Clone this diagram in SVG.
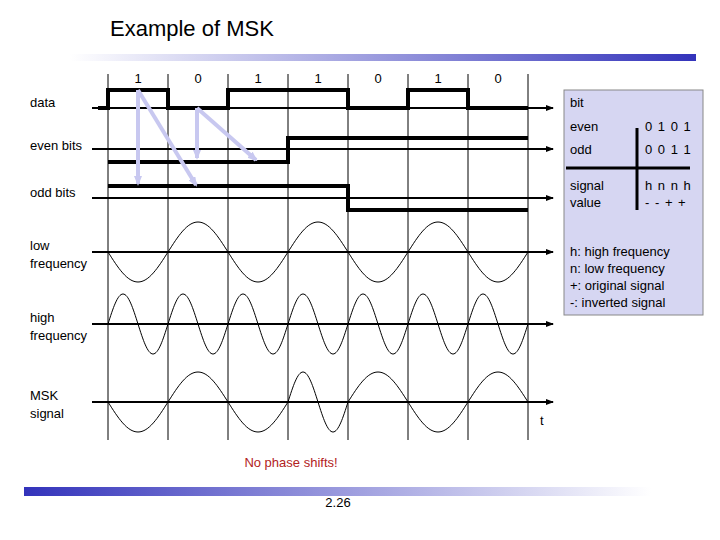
<svg xmlns="http://www.w3.org/2000/svg" width="720" height="540" viewBox="0 0 720 540">
<defs>
<linearGradient id="gTop" x1="0" x2="1" y1="0" y2="0"><stop offset="0" stop-color="#ffffff"/><stop offset="1" stop-color="#3333bb"/></linearGradient>
<linearGradient id="gBot" x1="0" x2="1" y1="0" y2="0"><stop offset="0" stop-color="#3333bb"/><stop offset="1" stop-color="#ffffff"/></linearGradient>
<marker id="ah" markerWidth="8" markerHeight="6" refX="7" refY="3" orient="auto" markerUnits="userSpaceOnUse"><path d="M0,0 L8,3 L0,6 Z" fill="#000"/></marker>
<marker id="bh" markerWidth="10" markerHeight="8" refX="8" refY="4" orient="auto" markerUnits="userSpaceOnUse"><path d="M0,0 L10,4 L0,8 Z" fill="#c8c8f0"/></marker>
<style>
text{font-family:"Liberation Sans",Arial,sans-serif;font-size:13px;fill:#000}
.grid{stroke:#000;stroke-width:1}
.axis{stroke:#000;stroke-width:2;marker-end:url(#ah)}
.sig{stroke:#000;stroke-width:4;fill:none}
.wave{stroke:#000;stroke-width:1;fill:none}
.ba{stroke:#c8c8f0;stroke-width:4;fill:none;marker-end:url(#bh)}
</style>
</defs>
<rect width="720" height="540" fill="#fff"/>
<text x="110" y="36" style="font-size:22px">Example of MSK</text>
<rect x="70" y="54" width="626" height="7" fill="url(#gTop)"/>
<g id="box">
<rect x="564" y="90" width="139" height="225" fill="#d6d6f2" stroke="#888" stroke-width="1"/>
<text x="570" y="107">bit</text>
<text x="570" y="131">even</text><text x="645" y="131" style="letter-spacing:1px">0 1 0 1</text>
<text x="570" y="154">odd</text><text x="645" y="154" style="letter-spacing:1px">0 0 1 1</text>
<line x1="566" y1="168" x2="690" y2="168" stroke="#000" stroke-width="3"/>
<line x1="637" y1="128" x2="637" y2="210" stroke="#000" stroke-width="3"/>
<text x="570" y="190">signal</text><text x="570" y="207">value</text>
<text x="645" y="190" style="letter-spacing:1px">h n n h</text><text x="645" y="207" style="letter-spacing:1px">- - + +</text>
<text x="570" y="256">h: high frequency</text>
<text x="570" y="273">n: low frequency</text>
<text x="570" y="290">+: original signal</text>
<text x="570" y="307">-: inverted signal</text>
</g>
<g id="grid">
<line class="grid" x1="108" y1="74" x2="108" y2="440"/><line class="grid" x1="168" y1="74" x2="168" y2="440"/>
<line class="grid" x1="228" y1="74" x2="228" y2="440"/><line class="grid" x1="288" y1="74" x2="288" y2="440"/>
<line class="grid" x1="348" y1="74" x2="348" y2="440"/><line class="grid" x1="408" y1="74" x2="408" y2="440"/>
<line class="grid" x1="468" y1="74" x2="468" y2="440"/><line class="grid" x1="528" y1="74" x2="528" y2="440"/>
</g>
<g id="bits">
<text x="138" y="83" text-anchor="middle">1</text><text x="198" y="83" text-anchor="middle">0</text>
<text x="258" y="83" text-anchor="middle">1</text><text x="318" y="83" text-anchor="middle">1</text>
<text x="378" y="83" text-anchor="middle">0</text><text x="438" y="83" text-anchor="middle">1</text>
<text x="498" y="83" text-anchor="middle">0</text>
</g>
<g id="labels">
<text x="30" y="107">data</text>
<text x="30" y="150">even bits</text>
<text x="30" y="197">odd bits</text>
<text x="30" y="250">low</text><text x="30" y="268">frequency</text>
<text x="30" y="322">high</text><text x="30" y="340">frequency</text>
<text x="30" y="400">MSK</text><text x="30" y="418">signal</text>
<text x="540" y="425">t</text>
</g>
<g id="connectors">
<line class="axis" x1="92" y1="108" x2="553" y2="108"/>
<line class="axis" x1="92" y1="149" x2="553" y2="149"/>
<line class="axis" x1="92" y1="198" x2="553" y2="198"/>
<line class="axis" x1="92" y1="252" x2="553" y2="252"/>
<line class="axis" x1="92" y1="324" x2="553" y2="324"/>
<line class="axis" x1="92" y1="402" x2="553" y2="402"/>
</g>
<g id="signals">
<path class="sig" d="M98,108 H108 V90 H168 V108 H228 V90 H348 V108 H408 V90 H468 V108 H528"/>
<path class="sig" d="M108,162 H288 V138 H528"/>
<path class="sig" d="M108,186 H348 V210 H528"/>
</g>
<g id="mapping">
<path class="ba" d="M138,90 V184"/>
<path class="ba" d="M138,90 L196,185"/>
<path class="ba" d="M197,108 V158"/>
<path class="ba" d="M197,108 L256,160"/>
</g>
<g id="waves">
<path class="wave" d="M108,252 c10,15.75 19.1,30 30,30 c10.9,0 20,-14.25 30,-30 c10,-15.75 19.1,-30 30,-30 c10.9,0 20,14.25 30,30 c10,15.75 19.1,30 30,30 c10.9,0 20,-14.25 30,-30 c10,-15.75 19.1,-30 30,-30 c10.9,0 20,14.25 30,30 c10,15.75 19.1,30 30,30 c10.9,0 20,-14.25 30,-30 c10,-15.75 19.1,-30 30,-30 c10.9,0 20,14.25 30,30 c10,15.75 19.1,30 30,30 c10.9,0 20,-14.25 30,-30"/>
<path class="wave" d="M108,324 c5,-15.75 9.55,-30 15,-30 c5.45,0 10,14.25 15,30 c5,15.75 9.55,30 15,30 c5.45,0 10,-14.25 15,-30 c5,-15.75 9.55,-30 15,-30 c5.45,0 10,14.25 15,30 c5,15.75 9.55,30 15,30 c5.45,0 10,-14.25 15,-30 c5,-15.75 9.55,-30 15,-30 c5.45,0 10,14.25 15,30 c5,15.75 9.55,30 15,30 c5.45,0 10,-14.25 15,-30 c5,-15.75 9.55,-30 15,-30 c5.45,0 10,14.25 15,30 c5,15.75 9.55,30 15,30 c5.45,0 10,-14.25 15,-30 c5,-15.75 9.55,-30 15,-30 c5.45,0 10,14.25 15,30 c5,15.75 9.55,30 15,30 c5.45,0 10,-14.25 15,-30 c5,-15.75 9.55,-30 15,-30 c5.45,0 10,14.25 15,30 c5,15.75 9.55,30 15,30 c5.45,0 10,-14.25 15,-30 c5,-15.75 9.55,-30 15,-30 c5.45,0 10,14.25 15,30 c5,15.75 9.55,30 15,30 c5.45,0 10,-14.25 15,-30"/>
<path class="wave" d="M108,402 c10,15.75 19.1,30 30,30 c10.9,0 20,-14.25 30,-30 c10,-15.75 19.1,-30 30,-30 c10.9,0 20,14.25 30,30 c10,15.75 19.1,30 30,30 c10.9,0 20,-14.25 30,-30 c5,-15.75 9.55,-30 15,-30 c5.45,0 10,14.25 15,30 c5,15.75 9.55,30 15,30 c5.45,0 10,-14.25 15,-30 c10,-15.75 19.1,-30 30,-30 c10.9,0 20,14.25 30,30 c10,15.75 19.1,30 30,30 c10.9,0 20,-14.25 30,-30 c10,-15.75 19.1,-30 30,-30 c10.9,0 20,14.25 30,30"/>
</g>
<text x="291" y="467" text-anchor="middle" style="fill:#b22222">No phase shifts!</text>
<rect x="24" y="487" width="627" height="9" fill="url(#gBot)"/>
<text x="338" y="507" text-anchor="middle">2.26</text>
</svg>
